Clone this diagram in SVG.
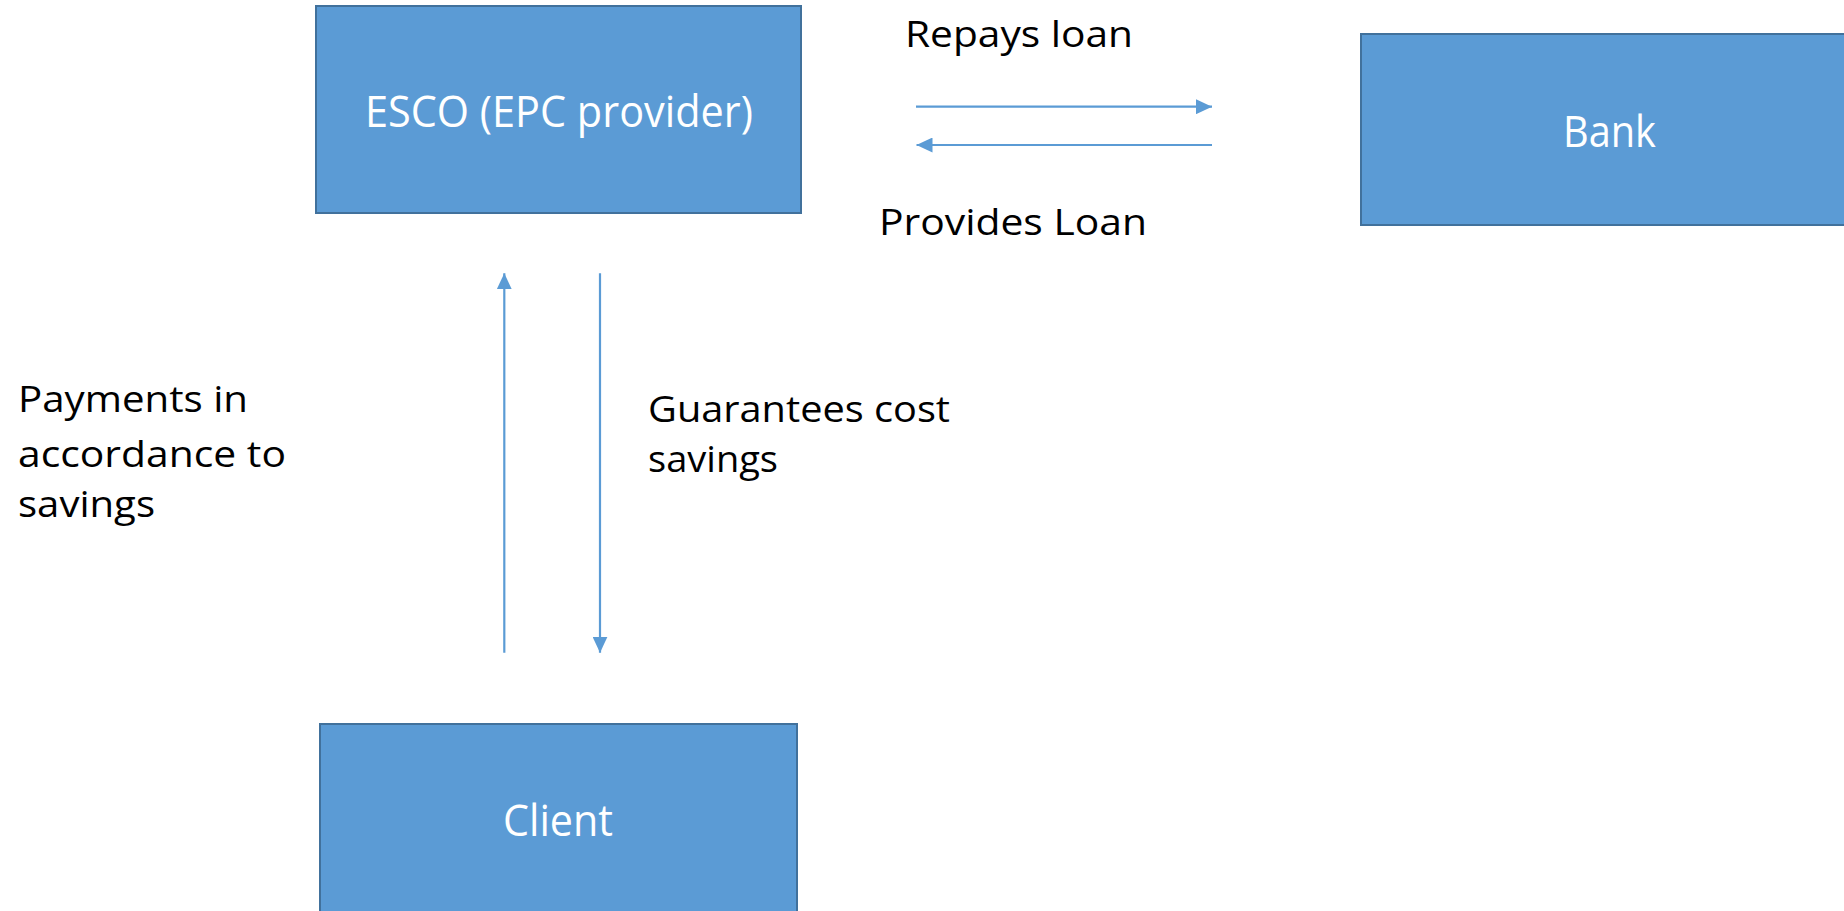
<svg xmlns="http://www.w3.org/2000/svg" width="1844" height="911" viewBox="0 0 1844 911">
  <style>
    .box { fill: #5B9BD5; stroke: #41719C; stroke-width: 2; }
    .boxtext { fill: #FFFFFF; font-family: "Open Sans", "Noto Sans", sans-serif; font-size: 44px; }
    .label { fill: #000000; font-family: "Open Sans", "Noto Sans", sans-serif; font-size: 36px; }
    .flow { stroke: #5B9BD5; stroke-width: 2.2; fill: none; marker-end: url(#head); }
  </style>
  <defs>
    <marker id="head" markerUnits="userSpaceOnUse" markerWidth="16" markerHeight="15" refX="16" refY="7.5" orient="auto">
      <path d="M0,0 L16,7.5 L0,15 Z" fill="#5B9BD5"/>
    </marker>
  </defs>
  <rect width="1844" height="911" fill="#FFFFFF"/>

  <g id="esco">
    <rect class="box" x="316" y="6" width="485" height="207"/>
    <text class="boxtext" x="365" y="127" textLength="388" lengthAdjust="spacingAndGlyphs">ESCO (EPC provider)</text>
  </g>

  <g id="bank">
    <rect class="box" x="1361" y="34" width="500" height="191"/>
    <text class="boxtext" x="1563" y="147" textLength="93" lengthAdjust="spacingAndGlyphs">Bank</text>
  </g>

  <g id="client">
    <rect class="box" x="320" y="724" width="477" height="200"/>
    <text class="boxtext" x="503" y="836" textLength="110" lengthAdjust="spacingAndGlyphs">Client</text>
  </g>

  <g id="connectors">
    <path class="flow" d="M916,106.7 L1212,106.7"/>
    <path class="flow" d="M1212,145 L916.5,145"/>
    <path class="flow" d="M504.3,652.7 L504.3,273.3"/>
    <path class="flow" d="M600,273.3 L600,652.7"/>
  </g>

  <g id="labels">
    <text class="label" x="905" y="47" textLength="228" lengthAdjust="spacingAndGlyphs">Repays loan</text>
    <text class="label" x="879" y="235" textLength="268" lengthAdjust="spacingAndGlyphs">Provides Loan</text>
    <text class="label" x="18" y="412" textLength="230" lengthAdjust="spacingAndGlyphs">Payments in</text>
    <text class="label" x="18" y="467" textLength="268" lengthAdjust="spacingAndGlyphs">accordance to</text>
    <text class="label" x="18" y="517" textLength="137" lengthAdjust="spacingAndGlyphs">savings</text>
    <text class="label" x="648" y="422" textLength="302" lengthAdjust="spacingAndGlyphs">Guarantees cost</text>
    <text class="label" x="648" y="472" textLength="130" lengthAdjust="spacingAndGlyphs">savings</text>
  </g>
</svg>
